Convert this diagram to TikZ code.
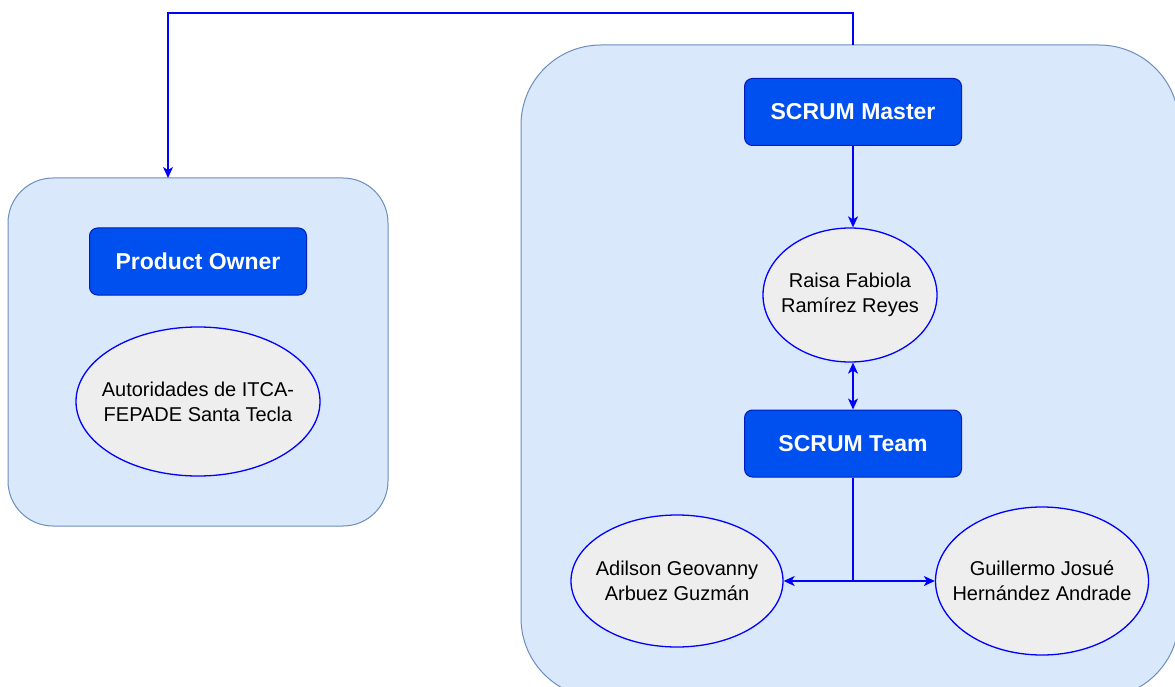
\documentclass[tikz,border=0pt]{standalone}
\usepackage{fontspec}
\setmainfont{Liberation Sans}
\usetikzlibrary{shapes.geometric,arrows.meta,calc}
\definecolor{contfill}{HTML}{DAE8FC}
\definecolor{contline}{HTML}{6C8EBF}
\definecolor{boxfill}{HTML}{0050EF}
\definecolor{boxline}{HTML}{001DBC}
\definecolor{ellfill}{HTML}{EEEEEE}
\definecolor{conn}{HTML}{0000FF}
\tikzset{
  container/.style={draw=contline, fill=contfill, line width=1pt, rectangle, inner sep=0pt},
  rolebox/.style={draw=boxline, fill=boxfill, line width=1pt, rounded corners=8pt, inner sep=0pt,
    text=white, font=\fontsize{23}{27}\selectfont\bfseries, minimum width=217pt, minimum height=67pt},
  person/.style={draw=conn, fill=ellfill, line width=1.3pt, ellipse, inner xsep=-40pt, inner ysep=-20pt, align=center,
    font=\fontsize{20}{25}\selectfont},
  link/.style={draw=conn, line width=1.3pt},
  tip/.style={-{Stealth[length=11pt,width=10pt,inset=3pt]}},
  bitip/.style={{Stealth[length=11pt,width=10pt,inset=3pt]}-{Stealth[length=11pt,width=10pt,inset=3pt]}}
}
\begin{document}
\begin{tikzpicture}[x=1pt,y=-1pt]
\useasboundingbox (0,0) rectangle (1175,687);
\clip (0,0) rectangle (1175,687);
\node[container, rounded corners=45pt, minimum width=380pt, minimum height=348pt] (lc) at (198,352) {};
\node[container, rounded corners=80pt, minimum width=658pt, minimum height=653pt] (rc) at (850,371.5) {};

\node[rolebox] (po) at (198,261.5) {Product Owner};
\node[person, minimum width=244pt, minimum height=149pt] (auto) at (198,401.5) {Autoridades de ITCA-\\FEPADE Santa Tecla};

\node[rolebox] (sm) at (853,112) {SCRUM Master};
\node[person, minimum width=174pt, minimum height=134pt] (raisa) at (850,295) {Raisa Fabiola\\Ramírez Reyes};
\node[rolebox] (st) at (853,443.5) {SCRUM Team};
\node[person, minimum width=212pt, minimum height=132pt] (adil) at (677,581) {Adilson Geovanny\\Arbuez Guzmán};
\node[person, minimum width=213pt, minimum height=148pt] (guil) at (1042,581) {Guillermo Josué\\Hernández Andrade};

\coordinate (smtop) at (853,45);
\coordinate (poin) at (168,178);
\draw[link, tip] (smtop) -- (853,13) -| (poin);
\draw[link, tip] (sm.south) -- (sm.south |- raisa.north);
\draw[link, bitip] (sm.south |- raisa.south) -- (st.north);
\draw[link] (st.south) -- (st.south |- adil.east) coordinate (j);
\draw[link, tip] (j) -- (adil.east);
\draw[link, tip] (j) -- (guil.west);
\end{tikzpicture}
\end{document}
